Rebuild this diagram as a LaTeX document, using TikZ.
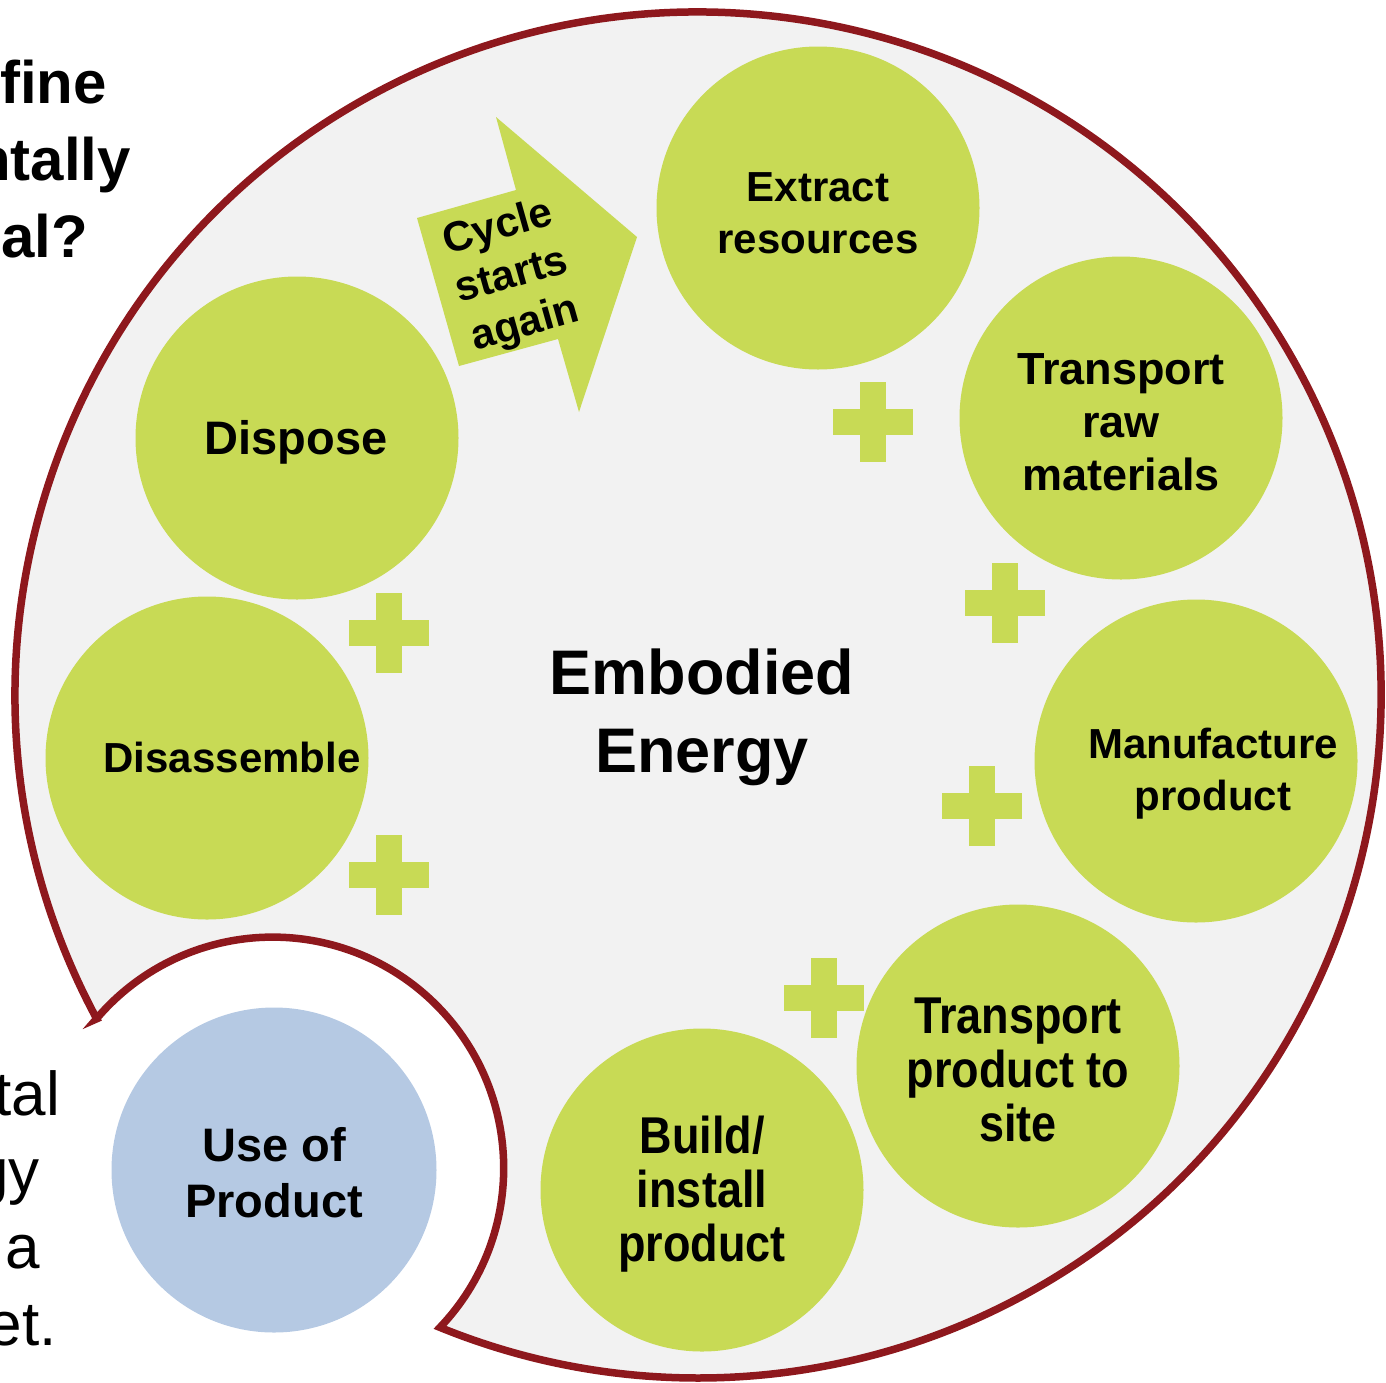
\documentclass[tikz,border=0pt]{standalone}
\usepackage{fontspec}
\setmainfont{Liberation Sans}
\definecolor{stagegreen}{RGB}{200,218,85}
\definecolor{useblue}{RGB}{181,201,227}
\definecolor{borderred}{RGB}{142,24,29}
\definecolor{bggrey}{RGB}{242,242,242}
\begin{document}
\begin{tikzpicture}[x=1pt,y=-1pt,
  stage/.style={circle, fill=stagegreen, draw=none, minimum size=323pt, inner sep=0pt},
  usestage/.style={circle, fill=useblue, draw=none, minimum size=325pt, inner sep=0pt},
  lbl/.style={font=\bfseries\fontsize{42}{52}\selectfont, align=center, inner sep=0pt},
  lblbig/.style={font=\bfseries\fontsize{45}{53}\selectfont, align=center, inner sep=0pt},
  lbltall/.style={font=\bfseries\fontsize{45}{47}\selectfont, align=center, inner sep=0pt, yscale=1.15, transform shape},
  sidebold/.style={font=\bfseries\fontsize{60}{77}\selectfont, anchor=base east, inner sep=0pt},
  sidereg/.style={font=\fontsize{62}{77}\selectfont, anchor=base east, inner sep=0pt},
  plussign/.pic={\fill[stagegreen] (-40,-13) rectangle (40,13); \fill[stagegreen] (-13,-40) rectangle (13,40);}
]
\useasboundingbox (0,0) rectangle (1386,1382);
\clip (0,0) rectangle (1386,1382);

% side texts (cut by the page edge)
\node[sidebold] (s1) at (107,103) {fine};
\node[sidebold] (s2) at (131,180) {ntally};
\node[sidebold] (s3) at (88,257) {al?};
\node[sidereg] (s4) at (60,1115) {tal};
\node[sidereg] (s5) at (40,1192) {gy};
\node[sidereg] (s6) at (40,1268) {a};
\node[sidereg] (s7) at (57,1345) {et.};

% big circle with bite
\filldraw[fill=bggrey, draw=borderred, line width=7.5pt, line join=miter]
  (96.7,1018.8) arc[start angle=151.7, end angle=472.2, radius=683]
  arc[start angle=43.6, end angle=-139.8, radius=231] -- cycle;

% cycle arrow
\fill[stagegreen] (496,117) -- (516,190) -- (417,218) -- (459,366) -- (558,339) -- (579,412) -- (637,237) -- cycle;
\node[font=\bfseries\fontsize{42}{50}\selectfont, align=center, inner sep=0pt, rotate=15.8] (cyc) at (512,277) {Cycle\\starts\\again};

% stage circles
\node[stage] (c1) at (818,208) {};
\node[stage] (c2) at (1121,418) {};
\node[stage] (c3) at (1196,761) {};
\node[stage] (c4) at (1018,1066) {};
\node[stage] (c5) at (702,1190) {};
\node[stage] (c6) at (207,758) {};
\node[stage] (c7) at (297,438) {};
\node[usestage] (c8) at (274,1170) {};

% labels
\node[lbl] (t1) at (818,213) {Extract\\resources};
\node[lblbig] (t2) at (1121,422) {Transport\\raw\\materials};
\node[lbl] (t3) at (1213,774) {Manufacture\\product};
\node[lbltall] (t4) at (1018,1070) {Transport\\product to\\site};
\node[lbltall] (t5) at (702,1194) {Build/\\install\\product};
\node[font=\bfseries\fontsize{47}{53}\selectfont, inner sep=0pt] (t7) at (296,442) {Dispose};
\node[lbl] (t6) at (232,757) {Disassemble};
\node[font=\bfseries\fontsize{47}{56}\selectfont, align=center, inner sep=0pt] (t8) at (274,1173) {Use of\\Product};
\node[font=\bfseries\fontsize{63}{78}\selectfont, align=center, inner sep=0pt] (emb) at (702,717) {Embodied\\Energy};

% plus signs
\pic at (873,422) {plussign};
\pic at (1005,603) {plussign};
\pic at (982,806) {plussign};
\pic at (824,998) {plussign};
\pic at (389,633) {plussign};
\pic at (389,875) {plussign};
\end{tikzpicture}
\end{document}
